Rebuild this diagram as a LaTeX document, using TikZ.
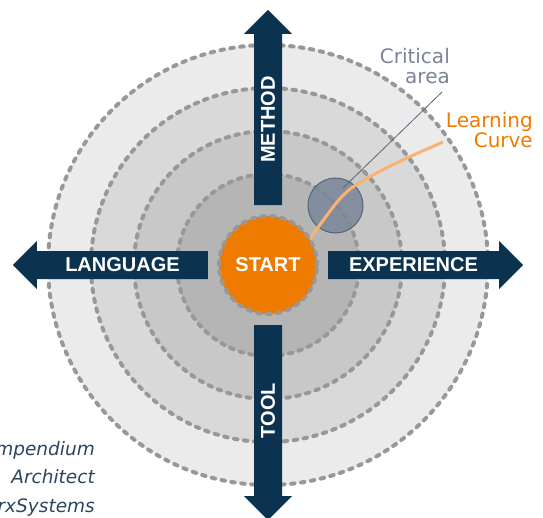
\documentclass[tikz,border=0pt]{standalone}
\usepackage{fontspec}
\setmainfont{Liberation Sans}
\newfontfamily\notefont{DejaVu Sans}
\definecolor{navy}{HTML}{0B3350}
\definecolor{startorange}{HTML}{EE7A00}
\definecolor{curveorange}{HTML}{F9B36F}
\definecolor{dotgray}{HTML}{989898}
\definecolor{band1}{HTML}{B5B5B5}
\definecolor{band2}{HTML}{C8C8C8}
\definecolor{band3}{HTML}{D9D9D9}
\definecolor{band4}{HTML}{EBEBEB}
\definecolor{critfill}{HTML}{7A869A}
\definecolor{critline}{HTML}{52667C}
\definecolor{crittext}{HTML}{7A8499}
\definecolor{credit}{HTML}{2B4560}
\begin{document}
\begin{tikzpicture}[x=1pt,y=1pt,
    ring/.style={draw=dotgray, line width=4pt, dash pattern=on 3.5pt off 6.5pt, line cap=round},
    axis/.style={text=white, inner sep=0pt, font=\fontsize{20}{24}\selectfont\bfseries},
    note/.style={inner sep=0pt, align=right, font=\notefont\fontsize{20}{20}\selectfont}]
  \clip (-268,-252) rectangle (275,265);
  % rings
  \foreach \r/\c in {220/band4, 177/band3, 134/band2, 91/band1}
    \draw[ring, fill=\c] (0,0) circle (\r);
  % axes
  \foreach \ang in {0,90,180,270}
    \fill[navy, rotate=\ang] (60,-14) -- (231,-14) -- (231,-24) -- (255,0)
      -- (231,24) -- (231,14) -- (60,14) -- cycle;
  \draw
    (0:145.5) node[axis] (exp){EXPERIENCE}
    (90:145.5) node[axis, rotate=90] (meth){METHOD}
    (180:145.5) node[axis] (lang){LANGUAGE}
    (270:145.5) node[axis, rotate=90] (tool){TOOL};
  % critical area
  \node[circle, minimum size=55pt, inner sep=0pt, fill=critfill, fill opacity=0.85,
    draw=critline, line width=1pt] (crit) at (67.5,59.5) {};
  \node[note, text=crittext, anchor=base east] (critlabel) at (182,182) {Critical\\area};
  \coordinate (critpt) at (75,77);
  \draw[critline, line width=0.8pt] (174,173) -- (critpt);
  % learning curve
  \node[note, text=startorange, anchor=base east] (lclabel) at (265,118) {Learning\\Curve};
  \draw[curveorange, line width=3pt]
    (39,23) .. controls (60,50) and (70,68) .. (85,78)
    .. controls (110,95) and (150,112) .. (175,123);
  % start
  \node[circle, minimum size=98pt, inner sep=0pt, fill=startorange, ring,
    text=white, font=\fontsize{20}{24}\selectfont\bfseries] (start) at (0,0) {START};
  \node[inner sep=0pt, anchor=base east, align=right, text=credit,
    font=\notefont\itshape\fontsize{18.5}{28.5}\selectfont] (credits) at (-173,-247)
    {Compendium\\Architect\\SparxSystems};
\end{tikzpicture}
\end{document}
